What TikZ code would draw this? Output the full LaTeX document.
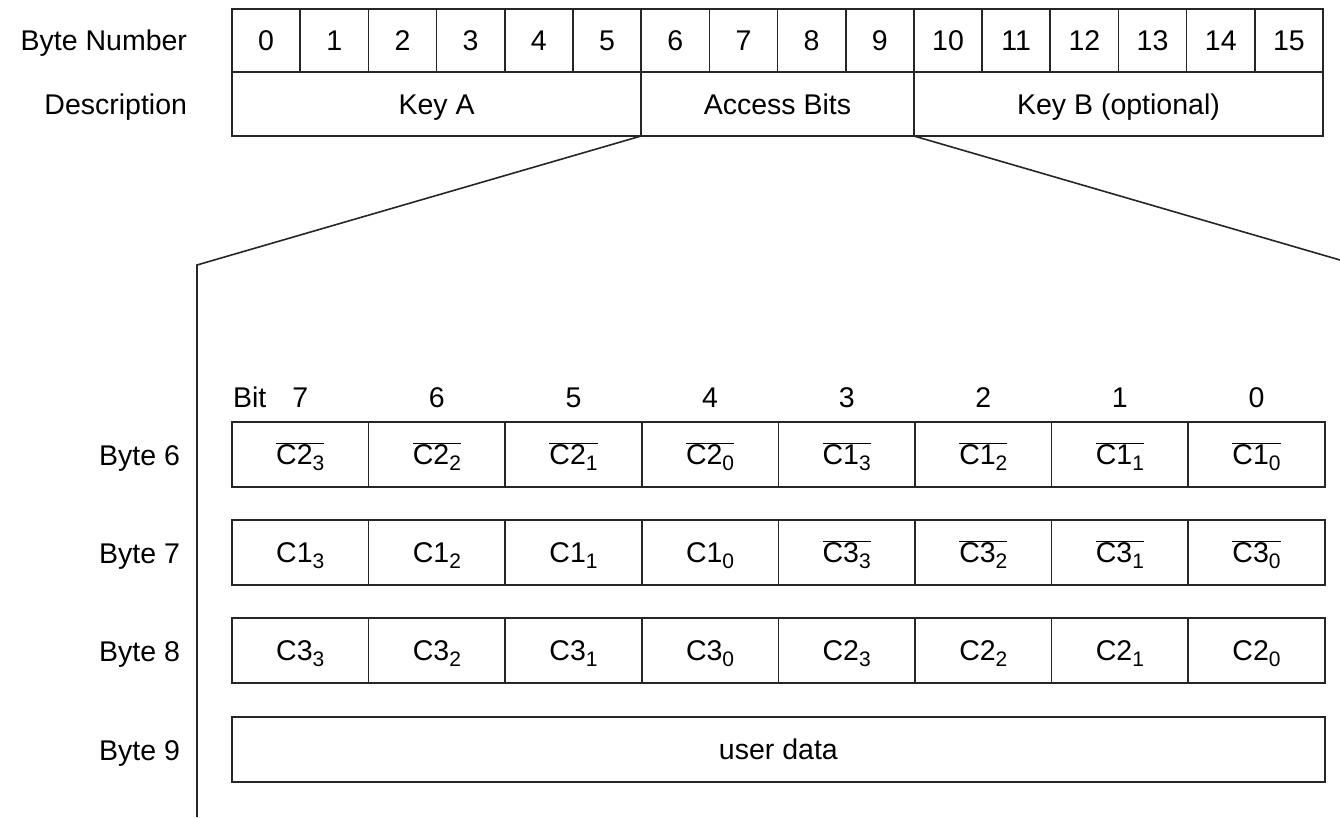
\documentclass[tikz,border=0pt]{standalone}
\usepackage{fontspec}
\setmainfont{Liberation Sans}
\newcommand{\fz}{\fontsize{28.5}{32}\selectfont}
\newcommand{\subfz}{\fontsize{21}{24}\selectfont}
\newcommand{\csub}[2]{C#1\raisebox{-6pt}{\subfz #2}}
\newcommand{\cbar}[2]{$\overline{\hbox{\fz C#1\raisebox{-6pt}{\subfz #2}}}$}
\begin{document}
\begin{tikzpicture}[x=1pt,y=-1pt,
  txt/.style={inner sep=0pt, outer sep=0pt, font=\fz, text height=20.5pt, text depth=0pt},
  box/.style={txt, draw=black!85, line width=1.6pt, anchor=north west},
  lbl/.style={txt, anchor=east},
  fan/.style={draw=black!85, line width=1.6pt}]
\useasboundingbox (0,0) rectangle (1340,817);
% top table
\foreach \i in {0,...,15}
  \node[box, minimum width=68.19pt, minimum height=63pt] (b\i) at ({232+\i*68.19},9) {\i};
\node[box, minimum width=409.14pt, minimum height=64pt] (keya) at (232,72) {Key A};
\node[box, minimum width=272.76pt, minimum height=64pt] (acc) at (641.14,72) {Access Bits};
\node[box, minimum width=409.14pt, minimum height=64pt] (keyb) at (913.9,72) {Key B (optional)};
\node[lbl] (lnum) at (187,40.5) {Byte Number};
\node[lbl] (ldesc) at (187,104) {Description};
% fan lines
\coordinate (lc) at (197,265);
\coordinate (lb) at (197,817);
\coordinate (rc) at (1340,260);
\draw[fan] (acc.south west) -- (lc) -- (lb);
\draw[fan] (acc.south east) -- (rc);
% bit labels
\node[txt, anchor=west] (bit) at (233,397) {Bit};
\foreach \k/\v in {0/7,1/6,2/5,3/4,4/3,5/2,6/1,7/0}
  \node[txt] (bl\v) at ({232+136.6*(\k+0.5)},397) {\v};
% byte 6
\foreach \k/\t in {0/{\cbar{2}{3}},1/{\cbar{2}{2}},2/{\cbar{2}{1}},3/{\cbar{2}{0}},4/{\cbar{1}{3}},5/{\cbar{1}{2}},6/{\cbar{1}{1}},7/{\cbar{1}{0}}}
  \node[box, minimum width=136.6pt, minimum height=65pt] (r6c\k) at ({232+136.6*\k},422) {\t};
% byte 7
\foreach \k/\t in {0/{\csub{1}{3}},1/{\csub{1}{2}},2/{\csub{1}{1}},3/{\csub{1}{0}},4/{\cbar{3}{3}},5/{\cbar{3}{2}},6/{\cbar{3}{1}},7/{\cbar{3}{0}}}
  \node[box, minimum width=136.6pt, minimum height=65pt] (r7c\k) at ({232+136.6*\k},520) {\t};
% byte 8
\foreach \k/\t in {0/{\csub{3}{3}},1/{\csub{3}{2}},2/{\csub{3}{1}},3/{\csub{3}{0}},4/{\csub{2}{3}},5/{\csub{2}{2}},6/{\csub{2}{1}},7/{\csub{2}{0}}}
  \node[box, minimum width=136.6pt, minimum height=65pt] (r8c\k) at ({232+136.6*\k},618) {\t};
% byte 9
\node[box, minimum width=1092.8pt, minimum height=65pt] (r9) at (232,717) {user data};
\node[lbl] (l6) at (180,455) {Byte 6};
\node[lbl] (l7) at (180,553) {Byte 7};
\node[lbl] (l8) at (180,651) {Byte 8};
\node[lbl] (l9) at (180,750) {Byte 9};
\end{tikzpicture}
\end{document}
